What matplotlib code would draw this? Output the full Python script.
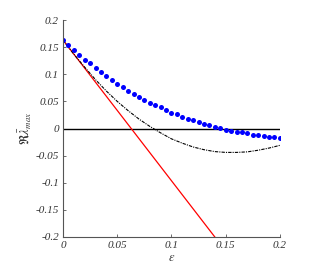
import numpy as np
import matplotlib
matplotlib.use("Agg")
import matplotlib.pyplot as plt

plt.rcParams['font.family'] = ['Liberation Serif', 'DejaVu Serif']
plt.rcParams['mathtext.fontset'] = 'stix'

# Blue dots (eps step 0.005)
eps_dots = [i * 0.005 for i in range(41)]
lam_dots = [0.163, 0.154, 0.145, 0.136, 0.127, 0.120, 0.112, 0.104, 0.096, 0.089,
            0.083, 0.076, 0.070, 0.064, 0.058, 0.053, 0.048, 0.043, 0.039, 0.034,
            0.029, 0.026, 0.022, 0.018, 0.015, 0.012, 0.009, 0.006, 0.003, 0.001,
            -0.002, -0.004, -0.006, -0.007, -0.009, -0.011, -0.012, -0.014, -0.015,
            -0.016, -0.017]

# Black dashed curve
eps_curve = [0.00, 0.01, 0.02, 0.03, 0.04, 0.05, 0.06, 0.07, 0.08, 0.09, 0.10,
             0.11, 0.12, 0.13, 0.14, 0.15, 0.16, 0.17, 0.18, 0.19, 0.20]
lam_curve = [0.163, 0.137, 0.113, 0.090, 0.069, 0.050, 0.033, 0.0175, 0.004, -0.008,
             -0.019, -0.027, -0.034, -0.039, -0.0425, -0.044, -0.044, -0.043, -0.040,
             -0.036, -0.031]

# Red straight line
eps_line = [0.0, 0.14]
lam_line = [0.163, -0.2]

xticks = [0, 0.05, 0.1, 0.15, 0.2]
xticklabels = ['0', '0.05', '0.1', '0.15', '0.2']
yticks = [0.2, 0.15, 0.1, 0.05, 0, -0.05, -0.1, -0.15, -0.2]
yticklabels = ['0.2', '0.15', '0.1', '0.05', '0', '-0.05', '-0.1', '-0.15', '-0.2']

fig = plt.figure(figsize=(3.32, 2.68), dpi=100)
ax = fig.add_axes([0.19, 0.1157, 0.653, 0.8093])

ax.plot([0, 0.2], [0, 0], color='black', lw=1.0)
ax.plot(eps_line, lam_line, color='red', lw=0.9)
ax.plot(eps_curve, lam_curve, color='black', lw=0.8, ls=(0, (3, 1, 1, 1)))
ax.plot(eps_dots, lam_dots, 'o', color='blue', ms=3.6, mec='none')

ax.set_xlim(0, 0.2)
ax.set_ylim(-0.2, 0.2)
ax.set_xticks(xticks)
ax.set_xticklabels(xticklabels, fontstyle='italic', fontsize=8, color='#333333')
ax.set_yticks(yticks)
ax.set_yticklabels(yticklabels, fontstyle='italic', fontsize=8, color='#333333')
ax.tick_params(direction='in', length=2, width=0.6, colors='#555555', labelcolor='#333333', pad=3)
for s in ['top', 'right']:
    ax.spines[s].set_visible(False)
for s in ['left', 'bottom']:
    ax.spines[s].set_color('#555555')
    ax.spines[s].set_linewidth(0.8)

ax.set_xlabel(r'$\epsilon$', fontsize=9, color='#333333', labelpad=1)
ax.set_ylabel(r'$\Re\bar{\lambda}_{max}$', fontsize=9, color='#333333', labelpad=1)

fig.savefig('out.png', dpi=100)
